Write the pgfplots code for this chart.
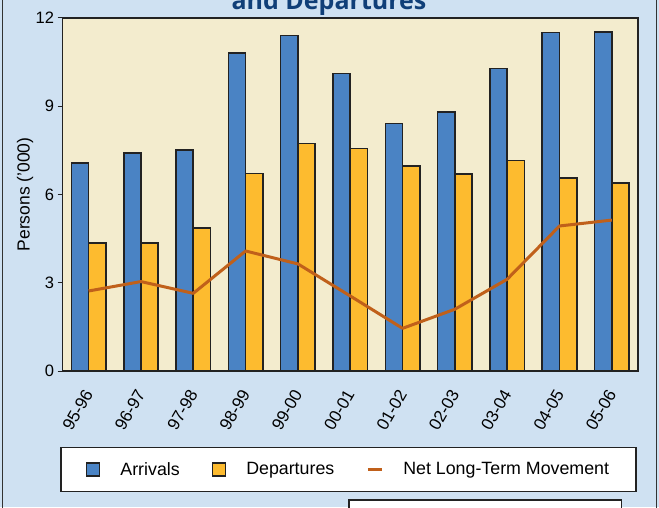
\documentclass[border=0pt]{standalone}
\usepackage{fontspec}
\setmainfont{Liberation Sans}
\newfontfamily\titlefont{Open Sans}
\usepackage{pgfplots}
\pgfplotsset{compat=1.18}
\definecolor{bgblue}{RGB}{207,225,242}
\definecolor{plotbg}{RGB}{243,236,206}
\definecolor{arrblue}{RGB}{74,131,196}
\definecolor{depyel}{RGB}{253,187,47}
\definecolor{netline}{RGB}{192,96,26}
\definecolor{titleblue}{RGB}{16,63,120}
\definecolor{outline}{RGB}{34,34,34}
\definecolor{framegray}{RGB}{50,50,50}
\begin{document}
\begin{tikzpicture}[x=1pt,y=1pt]
\useasboundingbox (0,0) rectangle (659,507);
\begin{scope}
\clip (0,0) rectangle (659,507);
\fill[bgblue] (0,0) rectangle (659,507);
\draw[line width=1.6pt, framegray] (2.5,-5) -- (2.5,515);
\draw[line width=1.6pt, framegray] (656.5,-5) -- (656.5,515);
\node[anchor=base, text=titleblue, inner sep=0pt, font=\titlefont\bfseries\fontsize{25}{30}\selectfont] at (329,497.5) {and Departures};
\draw[line width=1.5pt, fill=white, draw=outline] (61,15.5) rectangle (636,59.7);
\draw[line width=1.5pt, fill=white, draw=outline] (349,7) rectangle (621.7,-20);
\begin{axis}[
  at={(62.5pt,136pt)}, anchor=south west,
  scale only axis, width=575.5pt, height=353pt,
  xmin=-0.5, xmax=10.5, ymin=0, ymax=12,
  axis background/.style={fill=plotbg},
  axis line style={line width=1.5pt, draw=outline},
  ytick={0,3,6,9,12},
  xtick={0,1,2,3,4,5,6,7,8,9,10},
  xticklabels={95-96,96-97,97-98,98-99,99-00,00-01,01-02,02-03,03-04,04-05,05-06},
  tick pos=left,
  tick align=outside, major tick length=5pt,
  ytick style={line width=1pt, draw=outline},
  xtick style={draw=none},
  /pgf/number format/assume math mode=true,
  tick label style={font=\fontsize{16.5}{19}\selectfont},
  xticklabel style={inner sep=0pt, yshift=-15pt, xshift=0pt, rotate=60, anchor=east, font=\fontsize{17}{20}\selectfont},
  ylabel={Persons ('000)},
  ylabel style={at={(axis description cs:-0.0652,0.5)}, anchor=center, font=\fontsize{17.5}{20}\selectfont},
  legend style={at={(0.497,-0.279)}, anchor=center, draw=none, fill=none,
    font=\fontsize{17.8}{20}\selectfont, legend columns=3,
    /tikz/every even column/.append style={column sep=30pt},
    /tikz/every odd column/.append style={column sep=18pt}},
  legend cell align=left,
]
\addplot[ybar, bar width=0.33, bar shift=-0.165, fill=arrblue, draw=outline, line width=1.6pt,
  legend image code/.code={\draw[fill=arrblue, draw=outline, line width=1.5pt] (0pt,-6.5pt) rectangle (13pt,6.5pt);}]
  coordinates {(0,7.08) (1,7.42) (2,7.51) (3,10.80) (4,11.40) (5,10.11) (6,8.41) (7,8.80) (8,10.28) (9,11.51) (10,11.52)};
\addlegendentry{Arrivals}
\addplot[ybar, bar width=0.33, bar shift=0.165, fill=depyel, draw=outline, line width=1.6pt,
  legend image code/.code={\draw[fill=depyel, draw=outline, line width=1.5pt] (0pt,-6.5pt) rectangle (13pt,6.5pt);}]
  coordinates {(0,4.36) (1,4.36) (2,4.86) (3,6.71) (4,7.73) (5,7.56) (6,6.96) (7,6.70) (8,7.15) (9,6.57) (10,6.40)};
\addlegendentry{Departures}
\addplot[netline, line width=3pt, line join=round, mark=none,
  legend image code/.code={\draw[netline, line width=3pt] (0pt,0pt) -- (14pt,0pt);}]
  coordinates {(0,2.72) (1,3.04) (2,2.64) (3,4.08) (4,3.64) (5,2.55) (6,1.45) (7,2.10) (8,3.12) (9,4.93) (10,5.13)};
\addlegendentry{Net Long-Term Movement}
\end{axis}
\end{scope}
\end{tikzpicture}
\end{document}
